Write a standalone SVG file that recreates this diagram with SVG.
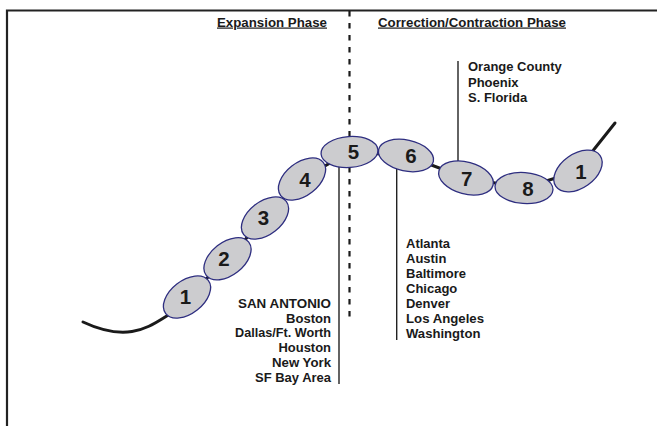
<svg xmlns="http://www.w3.org/2000/svg" width="657" height="426" viewBox="0 0 657 426">
<style>
.frame{stroke:#222;stroke-width:2.2;fill:none}
.chain{stroke:#1a1a1a;stroke-width:3;fill:none;stroke-linecap:round}
.lead{stroke:#222;stroke-width:1.4;fill:none}
.dash{stroke:#1a1a1a;stroke-width:2.2;stroke-dasharray:5.5 6.5;fill:none}
.node ellipse{fill:#cccccf;stroke:#2e2e80;stroke-width:1.3}
.num{font-family:"Liberation Sans",Arial,sans-serif;font-weight:bold;font-size:20.5px;fill:#1a1a1a;text-anchor:middle}
.lbl{font-family:"Liberation Sans",Arial,sans-serif;font-weight:bold;font-size:12px;fill:#1a1a1a}
.hdr{font-family:"Liberation Sans",Arial,sans-serif;font-weight:bold;font-size:12px;fill:#1a1a1a;text-decoration:underline}
.r{text-anchor:end}
</style>
<rect width="657" height="426" fill="#fff"/>
<path class="frame" d="M7,426 V10.5 H657"/>
<g id="headers">
<text class="hdr" x="217" y="26.5" textLength="110" lengthAdjust="spacingAndGlyphs">Expansion Phase</text>
<text class="hdr" x="378" y="26.5" textLength="188" lengthAdjust="spacingAndGlyphs">Correction/Contraction Phase</text>
</g>
<g id="connectors">
<line class="dash" x1="349.5" y1="11" x2="349.5" y2="323"/>
<path class="chain" d="M83,322 C100,330 115,334 132,331.5 C148,329 158,321 170,314"/>
<polyline class="chain" points="187,297 227.5,258.8 265,218 302,179 349.5,152 406,155.5 466,178 524,188 578,171"/>
<line class="chain" x1="593.5" y1="150" x2="615" y2="123"/>
<line class="lead" x1="339" y1="166" x2="339" y2="384"/>
<line class="lead" x1="396.7" y1="168" x2="396.7" y2="340"/>
<line class="lead" x1="458" y1="61" x2="458" y2="162"/>
</g>
<g id="n1" class="node"><ellipse cx="187" cy="297" rx="27" ry="16.5" transform="rotate(-38 187 297)"/><text class="num" x="185.5" y="304.3">1</text></g>
<g id="n2" class="node"><ellipse cx="227.5" cy="258.8" rx="27" ry="16.5" transform="rotate(-38 227.5 258.8)"/><text class="num" x="224" y="265.6">2</text></g>
<g id="n3" class="node"><ellipse cx="265" cy="218" rx="27" ry="16.5" transform="rotate(-38 265 218)"/><text class="num" x="263.5" y="225.3">3</text></g>
<g id="n4" class="node"><ellipse cx="302" cy="179" rx="27" ry="16.5" transform="rotate(-38 302 179)"/><text class="num" x="305" y="187.3">4</text></g>
<g id="n5" class="node"><ellipse cx="349.5" cy="152" rx="28.5" ry="15.5" transform="rotate(-4 349.5 152)"/><text class="num" x="353.5" y="159.3">5</text></g>
<g id="n6" class="node"><ellipse cx="406" cy="155.5" rx="28" ry="15.5" transform="rotate(12 406 155.5)"/><text class="num" x="411" y="163">6</text></g>
<g id="n7" class="node"><ellipse cx="466" cy="178" rx="28" ry="16" transform="rotate(15 466 178)"/><text class="num" x="466.7" y="186">7</text></g>
<g id="n8" class="node"><ellipse cx="524" cy="188" rx="29" ry="15.5" transform="rotate(4 524 188)"/><text class="num" x="528" y="195.6">8</text></g>
<g id="n1b" class="node"><ellipse cx="578" cy="171" rx="27" ry="17" transform="rotate(-35 578 171)"/><text class="num" x="581" y="178.8">1</text></g>
<g id="expansion-cities">
<text class="lbl r" x="331" y="308" textLength="93" lengthAdjust="spacingAndGlyphs">SAN ANTONIO</text>
<text class="lbl r" x="331" y="322.7" textLength="45" lengthAdjust="spacingAndGlyphs">Boston</text>
<text class="lbl r" x="331" y="337.4" textLength="96" lengthAdjust="spacingAndGlyphs">Dallas/Ft. Worth</text>
<text class="lbl r" x="331" y="352.1" textLength="52.5" lengthAdjust="spacingAndGlyphs">Houston</text>
<text class="lbl r" x="331" y="366.8" textLength="59" lengthAdjust="spacingAndGlyphs">New York</text>
<text class="lbl r" x="331" y="381.5" textLength="76" lengthAdjust="spacingAndGlyphs">SF Bay Area</text>
</g>
<g id="correction-cities">
<text class="lbl" x="406" y="247.7" textLength="44" lengthAdjust="spacingAndGlyphs">Atlanta</text>
<text class="lbl" x="406" y="262.7" textLength="40.4" lengthAdjust="spacingAndGlyphs">Austin</text>
<text class="lbl" x="406" y="277.7" textLength="60" lengthAdjust="spacingAndGlyphs">Baltimore</text>
<text class="lbl" x="406" y="292.7" textLength="51.3" lengthAdjust="spacingAndGlyphs">Chicago</text>
<text class="lbl" x="406" y="307.7" textLength="44" lengthAdjust="spacingAndGlyphs">Denver</text>
<text class="lbl" x="406" y="322.7" textLength="78" lengthAdjust="spacingAndGlyphs">Los Angeles</text>
<text class="lbl" x="406" y="337.7" textLength="74.4" lengthAdjust="spacingAndGlyphs">Washington</text>
</g>
<g id="contraction-cities">
<text class="lbl" x="468" y="71" textLength="93.8" lengthAdjust="spacingAndGlyphs">Orange County</text>
<text class="lbl" x="468" y="86.5" textLength="50.6" lengthAdjust="spacingAndGlyphs">Phoenix</text>
<text class="lbl" x="468" y="102" textLength="59.2" lengthAdjust="spacingAndGlyphs">S. Florida</text>
</g>
</svg>
